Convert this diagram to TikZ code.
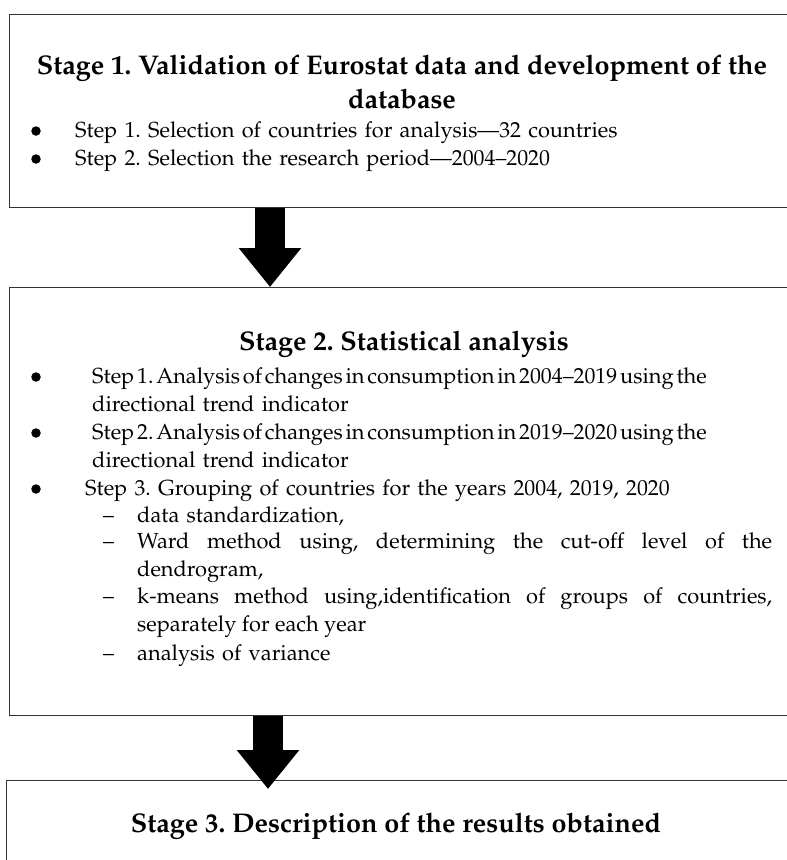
\documentclass[tikz,border=0pt]{standalone}
\usepackage[T1]{fontenc}
\usepackage{mathpazo}
\usepackage{xcolor}
\usetikzlibrary{arrows.meta}
\frenchspacing
\newcommand{\tightline}[1]{{\spaceskip=0.13em plus 0.05em #1}}
\tikzset{
  stagebox/.style={draw=black!80, line width=1.4pt, anchor=north west, inner sep=0pt},
  stagetitle/.style={font=\fontsize{27}{34}\selectfont\bfseries, anchor=base, inner sep=0pt},
  steptext/.style={font=\fontsize{21.8}{28.5}\selectfont, text width=#1, anchor=base west, inner sep=0pt},
  steptext/.default=690pt,
  dot/.style={circle, fill=black, minimum size=9.5pt, inner sep=0pt},
  dashmark/.style={font=\fontsize{21.8}{28.5}\selectfont, anchor=base west, inner sep=0pt},
  bigarrow/.style={line width=30pt, -{Triangle[length=39pt,width=60pt]}},
}
\begin{document}
\begin{tikzpicture}[x=1pt,y=1pt]
    \useasboundingbox (0,0) rectangle (787,-860);
    % boxes
    \node[stagebox, minimum width=791pt, minimum height=193pt] (box1) at (9,-14) {};
    \node[stagebox, minimum width=791pt, minimum height=428pt] (box2) at (9,-287) {};
    \node[stagebox, minimum width=794pt, minimum height=120pt] (box3) at (6,-780) {};
    % arrows
    \coordinate (ax1) at (270,0);
    \coordinate (ax2) at (268,0);
    \draw[bigarrow] (box1.south -| ax1) -- (box2.north -| ax1);
    \draw[bigarrow] (box2.south -| ax2) -- ([yshift=-9pt]box3.north -| ax2);
    % Stage 1
    \node[stagetitle] (t1a) at (402,-74) {Stage 1. Validation of Eurostat data and development of the};
    \node[stagetitle] (t1b) at (402,-108) {database};
    \node[dot] (b11) at (36,-131) {};
    \node[steptext] (s11) at (75,-137) {Step 1. Selection of countries for analysis---32 countries};
    \node[dot] (b12) at (36,-159) {};
    \node[steptext] (s12) at (75,-165) {Step 2. Selection the research period---2004--2020};
    % Stage 2
    \node[stagetitle] (t2) at (404,-350) {Stage 2. Statistical analysis};
    \node[dot] (b21) at (36,-377) {};
    \node[steptext] (s21) at (92,-383) {\tightline{Step 1. Analysis of changes in consumption in 2004--2019 using the}\\directional trend indicator};
    \node[dot] (b22) at (36,-433) {};
    \node[steptext] (s22) at (92,-439) {\tightline{Step 2. Analysis of changes in consumption in 2019--2020 using the}\\directional trend indicator};
    \node[dot] (b23) at (36,-489) {};
    \node[steptext] (s23) at (85,-495) {Step 3. Grouping of countries for the years 2004, 2019, 2020};
    % sub-steps
    \node[dashmark] (d1) at (103,-522) {--};
    \node[steptext=635pt] (i1) at (137,-522) {data standardization,};
    \node[dashmark] (d2) at (103,-548) {--};
    \node[steptext=635pt, align=justify] (i2) at (137,-548) {Ward method using, determining the cut-off level of the\linebreak dendrogram,};
    \node[dashmark] (d3) at (103,-603) {--};
    \node[steptext=635pt, align=justify] (i3) at (137,-603) {k-means method using,identification of groups of countries,\linebreak separately for each year};
    \node[dashmark] (d4) at (103,-660) {--};
    \node[steptext=635pt] (i4) at (137,-660) {analysis of variance};
    % Stage 3
    \node[stagetitle] (t3) at (396,-832) {Stage 3. Description of the results obtained};
\end{tikzpicture}
\end{document}
